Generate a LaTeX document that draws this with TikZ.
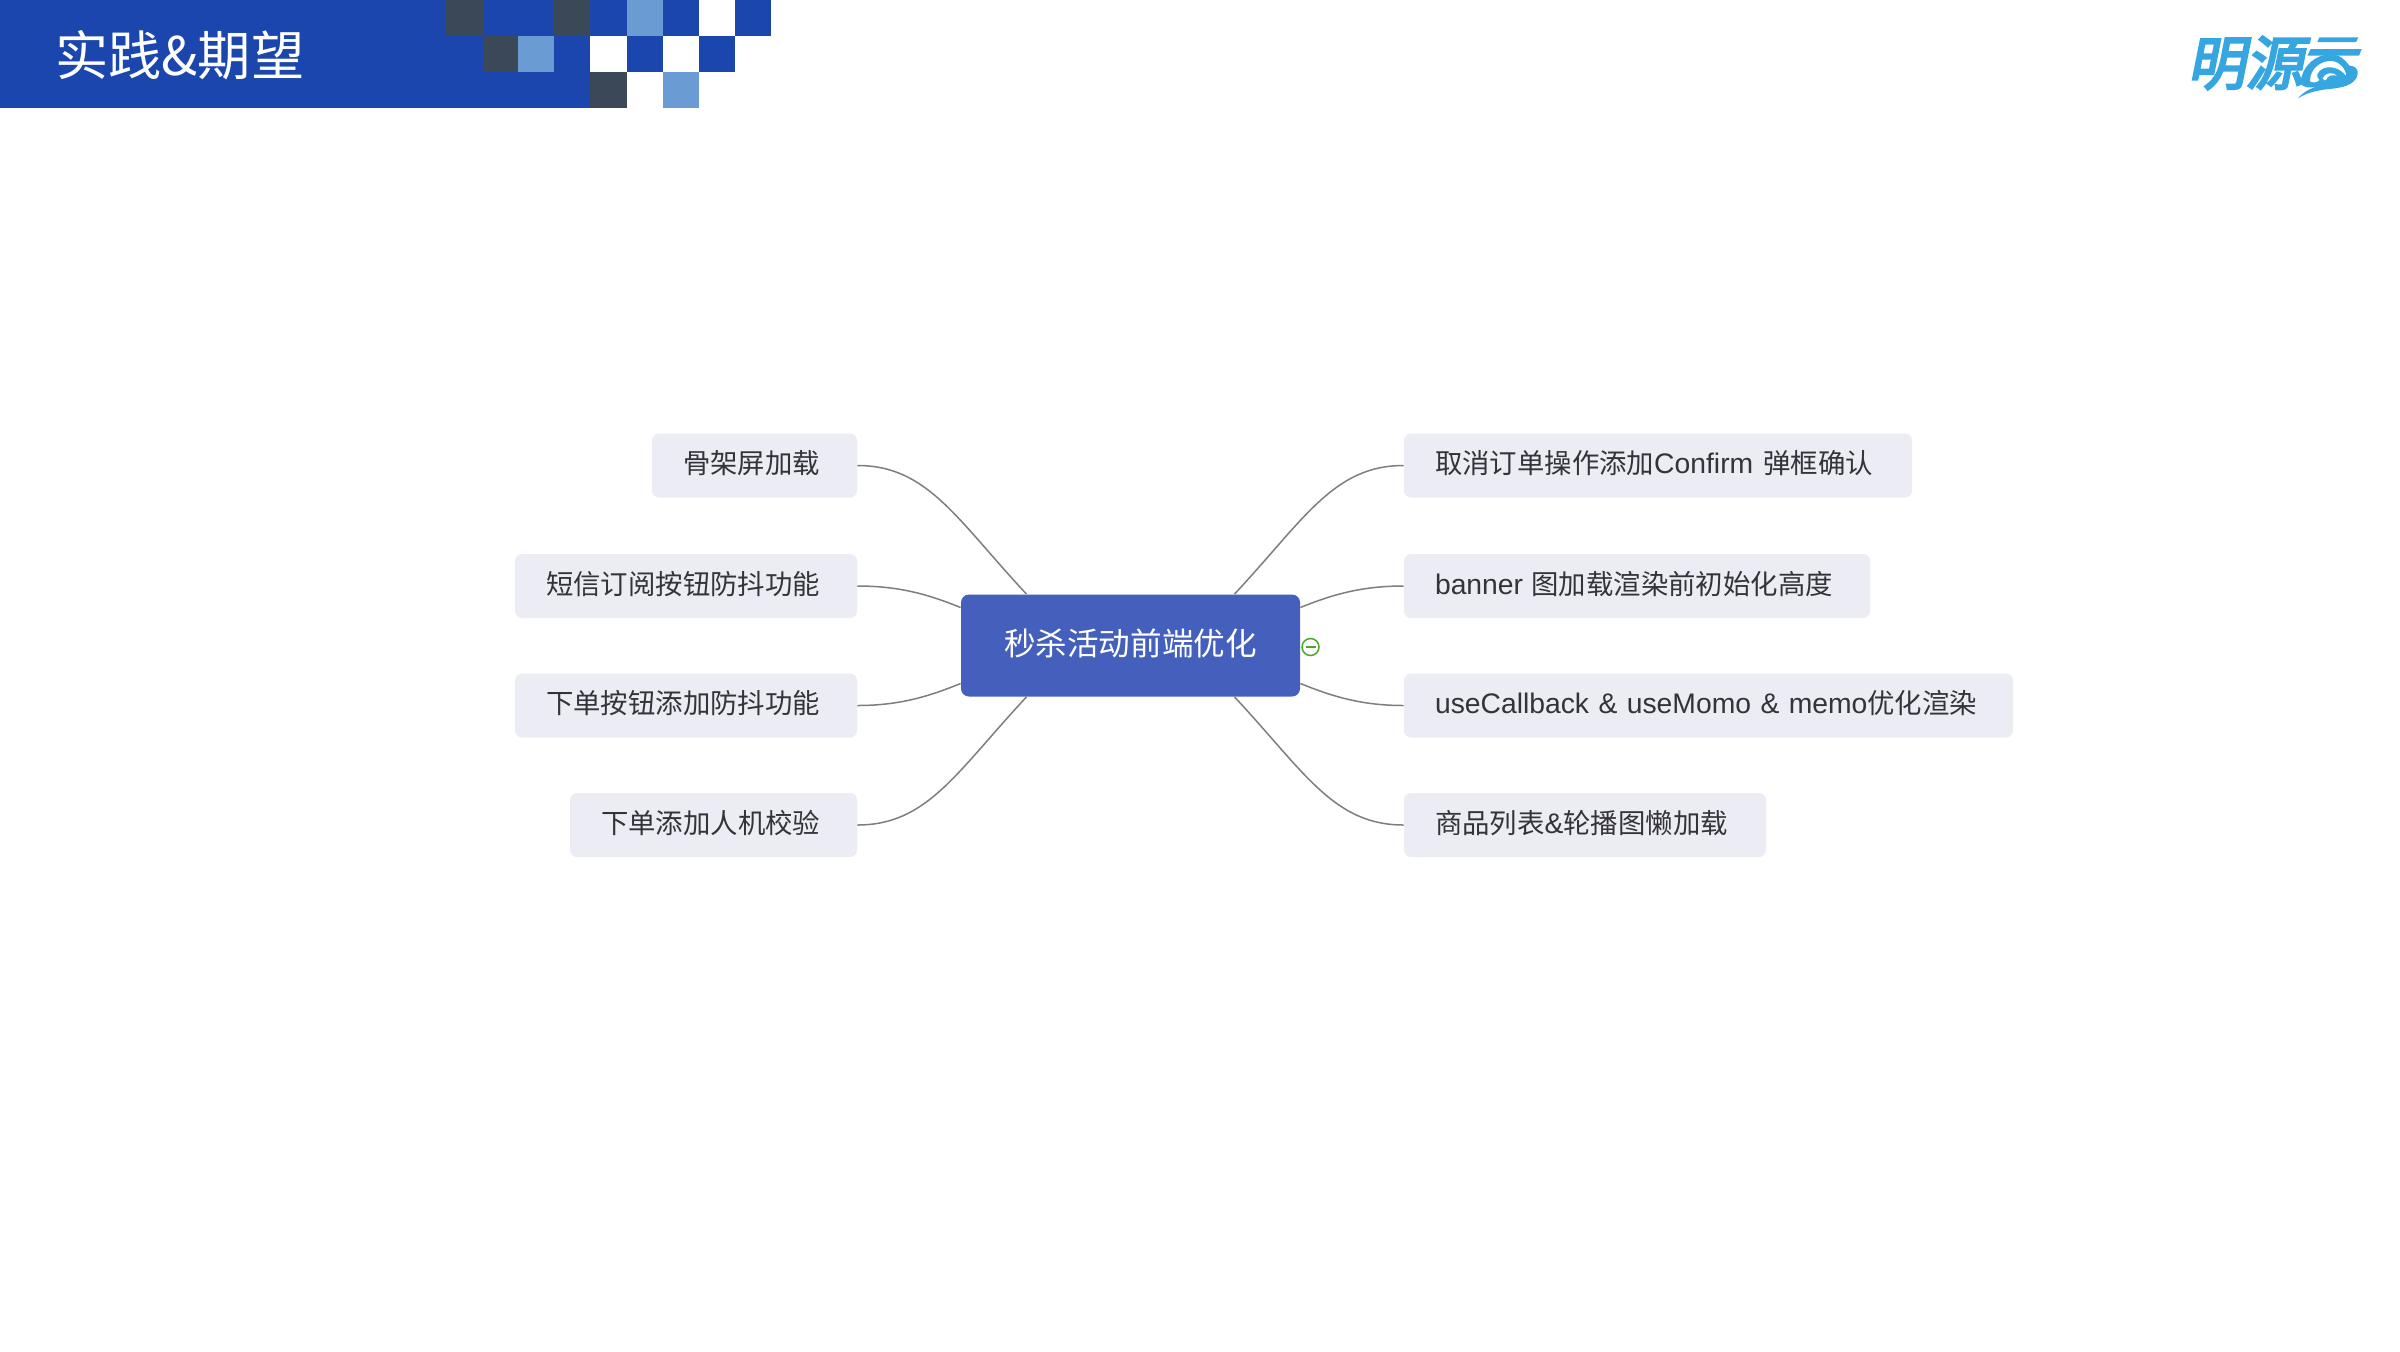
\documentclass[tikz,border=0pt]{standalone}
\usepackage{fontspec}
\setmainfont{Noto Sans CJK SC}
\newfontfamily\logofont[FakeSlant=0.2,FakeBold=4]{Noto Sans CJK SC}
\newfontfamily\latinfont[WordSpace=1.2]{Liberation Sans}
\usetikzlibrary{calc}
\definecolor{barblue}{HTML}{1B46AD}
\definecolor{tiledark}{HTML}{3B4858}
\definecolor{tilelight}{HTML}{6A9BD2}
\definecolor{rootblue}{HTML}{4460BC}
\definecolor{leaffill}{HTML}{ECEDF4}
\definecolor{wire}{HTML}{7E7E7E}
\definecolor{inktext}{HTML}{333338}
\definecolor{logoblue}{HTML}{36A6E0}
\definecolor{foldgreen}{HTML}{4DA52E}
\tikzset{
  x=0.5pt,y=-0.5pt,
  leafbox/.style={draw=none,fill=leaffill,rounded corners=3.5pt,minimum height=32pt,inner sep=0pt},
  leaftext/.style={anchor=base west,inner sep=0pt,text=inktext,font=\fontsize{13.7pt}{16pt}\selectfont},
  rootbox/.style={fill=rootblue,rounded corners=4pt,minimum width=169.5pt,minimum height=51pt,inner sep=0pt,text=white,font=\fontsize{15.8pt}{18pt}\selectfont},
  link/.style={draw=wire,line width=0.75pt},
  tile/.style={fill=#1,draw=none},
}
\newcommand{\leafnode}[5]{%
  \node[leafbox,minimum width={(#3-#2)*0.5pt}] (#1) at ({(#2+#3)/2},#4) {};
  \node[leaftext] (#1t) at ($(#1.west)+(31,8)$) {#5};
}
\newcommand{\lat}[1]{{\latinfont\fontsize{14.15pt}{16pt}\selectfont #1}}
\newcommand{\tileat}[4]{\fill[tile=#4] (#1,#3) rectangle (#2,#3+36);}
\begin{document}
\begin{tikzpicture}
\useasboundingbox (0,0) rectangle (2400,1351);
\fill[white] (0,0) rectangle (2400,1351);
% header
\fill[barblue] (0,0) rectangle (590,108);
\fill[barblue] (590,0) rectangle (771,36);
\tileat{445}{483}{0}{tiledark}
\tileat{554}{590}{0}{tiledark}
\tileat{627}{663}{0}{tilelight}
\tileat{699}{735}{0}{white}
\fill[barblue] (590,36) rectangle (735,72);
\tileat{483}{518}{36}{tiledark}
\tileat{518}{554}{36}{tilelight}
\tileat{590}{627}{36}{white}
\tileat{663}{699}{36}{white}
\tileat{590}{627}{72}{tiledark}
\tileat{663}{699}{72}{tilelight}
\node[anchor=west,inner sep=0pt,text=white,font=\fontsize{26.6pt}{30pt}\selectfont] (title) at (55,55) {实践\&期望};
% logo
\node[anchor=west,inner sep=0pt,text=logoblue,font=\logofont\fontsize{29pt}{32pt}\selectfont] (logo) at (2187,63) {明源};
\begin{scope}[shift={(2290,25)},x=0.1667pt,y=-0.1667pt]
  \fill[logoblue] (88,37) -- (205,37) -- (198,51) -- (82,51) -- cycle;
  \fill[logoblue] (62,72) -- (215,72) -- (207,92) -- (52,92) -- cycle;
  \fill[logoblue] (32,172) .. controls (35,125) and (75,88) .. (122,88)
     .. controls (150,88) and (165,105) .. (178,122)
     .. controls (205,122) and (212,150) .. (190,170)
     .. controls (165,192) and (120,190) .. (95,195)
     .. controls (65,200) and (42,208) .. (24,220)
     .. controls (40,200) and (62,190) .. (85,183)
     .. controls (60,190) and (35,190) .. (32,172) -- cycle;
  \fill[white] (60,168) .. controls (60,130) and (95,106) .. (125,108)
     .. controls (150,110) and (168,135) .. (168,152)
     .. controls (150,128) and (120,122) .. (100,130)
     .. controls (82,138) and (75,155) .. (88,165)
     .. controls (80,174) and (64,174) .. (60,168) -- cycle;
  \fill[white] (98,160) .. controls (105,142) and (130,140) .. (140,152)
     .. controls (125,148) and (112,152) .. (108,165)
     .. controls (104,168) and (99,165) .. (98,160) -- cycle;
\end{scope}
% nodes
\node[rootbox] (root) at (1130.5,645.5) {\raisebox{3.2pt}{秒杀活动前端优化}};
\leafnode{la}{652}{857}{465.5}{骨架屏加载}
\leafnode{lb}{515}{857}{586}{短信订阅按钮防抖功能}
\leafnode{lc}{515}{857}{705.5}{下单按钮添加防抖功能}
\leafnode{ld}{570}{857}{825}{下单添加人机校验}
\leafnode{ra}{1404}{1912}{465.5}{取消订单操作添加\lat{Confirm}\hspace{5pt}弹框确认}
\leafnode{rb}{1404}{1870}{586}{\lat{banner}\hspace{4.2pt}图加载渲染前初始化高度}
\leafnode{rc}{1404}{2013}{705.5}{\lat{useCallback \& useMomo \& memo}优化渲染}
\leafnode{rd}{1404}{1766}{825}{商品列表\lat{\&}轮播图懒加载}
% attachment points on the root
\coordinate (rnw) at ($(root.north)+(-104,0)$);
\coordinate (rne) at ($(root.north)+(104,0)$);
\coordinate (rsw) at ($(root.south)+(-104,0)$);
\coordinate (rse) at ($(root.south)+(104,0)$);
\coordinate (rwu) at ($(root.west)+(0,-38)$);
\coordinate (rwd) at ($(root.west)+(0,38)$);
\coordinate (reu) at ($(root.east)+(0,-38)$);
\coordinate (red) at ($(root.east)+(0,38)$);
% connectors
\draw[link] (la.east) .. controls +(70,0) and ($(rnw)+(-70,-75)$) .. (rnw);
\draw[link] (ld.east) .. controls +(70,0) and ($(rsw)+(-70,75)$) .. (rsw);
\draw[link] (ra.west) .. controls +(-70,0) and ($(rne)+(70,-75)$) .. (rne);
\draw[link] (rd.west) .. controls +(-70,0) and ($(rse)+(70,75)$) .. (rse);
\draw[link] (lb.east) .. controls +(42,0) and ($(rwu)+(-32,-13)$) .. (rwu);
\draw[link] (lc.east) .. controls +(42,0) and ($(rwd)+(-32,13)$) .. (rwd);
\draw[link] (rb.west) .. controls +(-42,0) and ($(reu)+(32,-13)$) .. (reu);
\draw[link] (rc.west) .. controls +(-42,0) and ($(red)+(32,13)$) .. (red);
% fold marker
\node[circle,draw=foldgreen,line width=0.75pt,fill=white,minimum size=8.5pt,inner sep=0pt] (fold) at (1310.5,647) {};
\draw[foldgreen,line width=0.75pt] ($(fold.center)+(-5,0)$) -- ($(fold.center)+(5,0)$);
\end{tikzpicture}
\end{document}
